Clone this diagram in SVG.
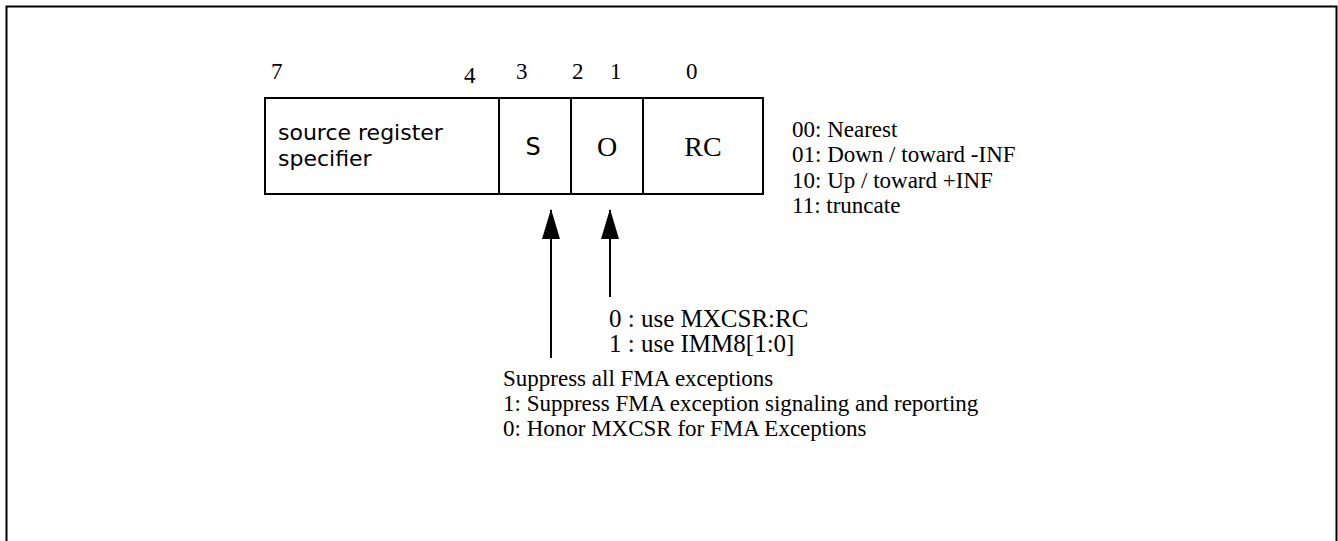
<svg xmlns="http://www.w3.org/2000/svg" width="1338" height="541" viewBox="0 0 1338 541">
  <style>
    .frame { fill: none; stroke: #000; stroke-width: 2; }
    .cell { fill: #fff; stroke: #000; stroke-width: 2; }
    .serif { font-family: "Liberation Serif", "Times New Roman", serif; font-size: 23px; fill: #000; }
    .sans { font-family: "DejaVu Sans", Verdana, sans-serif; font-size: 22px; fill: #000; }
    .field { font-size: 28px; }
    .conn { stroke: #000; stroke-width: 2; fill: none; marker-end: url(#head); }
  </style>
  <defs>
    <marker id="head" viewBox="0 0 30 18" refX="29" refY="9" markerWidth="30" markerHeight="18" markerUnits="userSpaceOnUse" orient="auto">
      <path d="M0,0 L30,9 L0,18 Z" fill="#000"/>
    </marker>
  </defs>
  <rect width="1338" height="541" fill="#fff"/>
  <rect class="frame" x="6.5" y="6.5" width="1330" height="560"/>

  <!-- bit positions -->
  <g id="bit-numbers" class="serif">
    <text x="271" y="79">7</text>
    <text x="464" y="83">4</text>
    <text x="516" y="79">3</text>
    <text x="572" y="79">2</text>
    <text x="610" y="79">1</text>
    <text x="686" y="79">0</text>
  </g>

  <!-- imm8 fields -->
  <g id="field-src">
    <rect class="cell" x="265" y="98" width="234" height="96"/>
    <text class="sans" x="278" y="140">source register</text>
    <text class="sans" x="278" y="166">specifier</text>
  </g>
  <g id="field-s">
    <rect class="cell" x="499" y="98" width="72" height="96"/>
    <text class="sans" x="533" y="155" text-anchor="middle" style="font-size:24px">S</text>
  </g>
  <g id="field-o">
    <rect class="cell" x="571" y="98" width="72" height="96"/>
    <text class="serif field" x="607" y="156" text-anchor="middle">O</text>
  </g>
  <g id="field-rc">
    <rect class="cell" x="643" y="98" width="120" height="96"/>
    <text class="serif field" x="703" y="156" text-anchor="middle">RC</text>
  </g>

  <!-- rounding control encodings -->
  <g id="rc-legend" class="serif">
    <text x="792" y="137">00: Nearest</text>
    <text x="792" y="162">01: Down / toward -INF</text>
    <text x="792" y="188">10: Up / toward +INF</text>
    <text x="792" y="213">11: truncate</text>
  </g>

  <!-- O bit description -->
  <g id="o-legend" class="serif" style="font-size:25px">
    <text x="609" y="327">0 : use MXCSR:RC</text>
    <text x="609" y="352">1 : use IMM8[1:0]</text>
  </g>

  <!-- S bit description -->
  <g id="s-legend" class="serif">
    <text x="503" y="386">Suppress all FMA exceptions</text>
    <text x="503" y="411">1: Suppress FMA exception signaling and reporting</text>
    <text x="503" y="436">0: Honor MXCSR for FMA Exceptions</text>
  </g>

  <g id="connectors">
    <line class="conn" x1="551" y1="358" x2="551" y2="210"/>
    <line class="conn" x1="610" y1="297" x2="610" y2="210"/>
  </g>
</svg>
